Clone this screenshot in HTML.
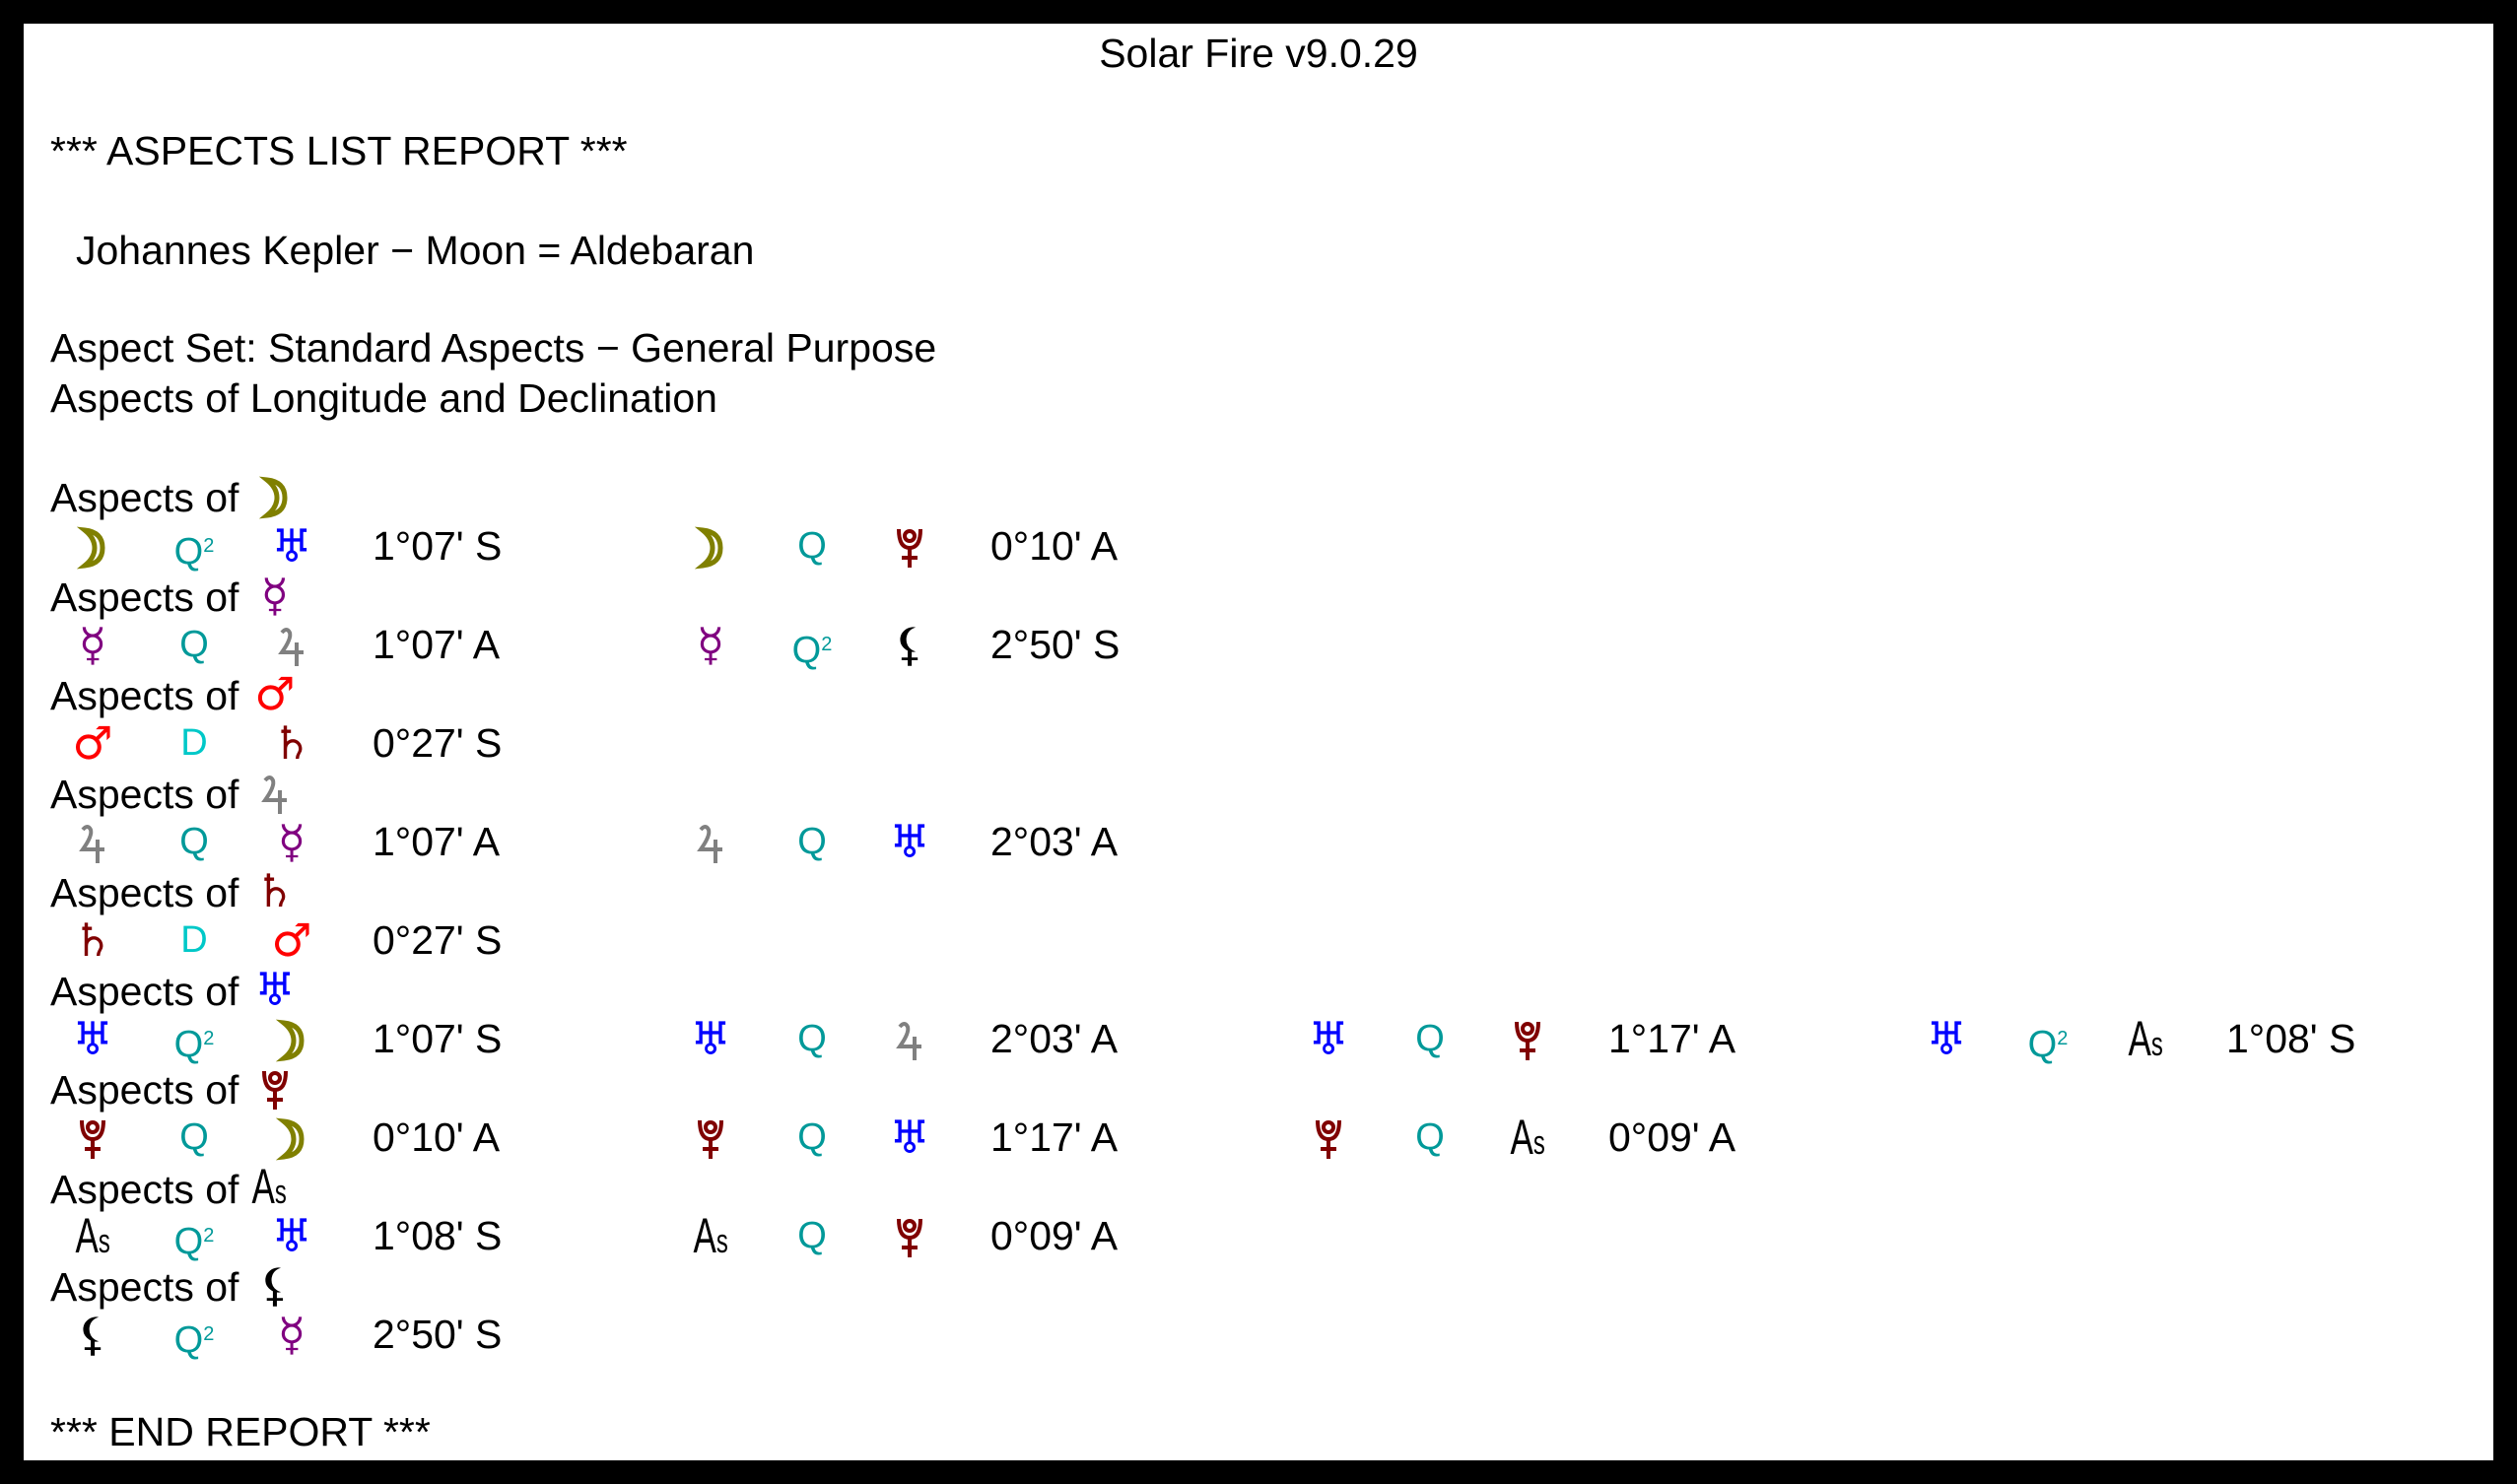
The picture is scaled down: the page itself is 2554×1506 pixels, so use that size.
<!DOCTYPE html>
<html><head><meta charset="utf-8"><style>
html,body{margin:0;padding:0;}
body{width:2554px;height:1506px;background:#000;position:relative;overflow:hidden;font-family:"Liberation Sans",Arial,sans-serif;font-size:41px;color:#000;}
#w{position:absolute;left:24px;top:24px;width:2506px;height:1458px;background:#fff;}
.l{position:absolute;height:50px;line-height:50px;white-space:nowrap;}
.g{position:absolute;height:50px;line-height:50px;top:0;}
.s{position:absolute;width:70px;text-align:center;top:0;font-family:"DejaVu Sans",sans-serif;font-size:46px;font-weight:bold;}
.a{left:35px}.b{left:138px}.c{left:237px}
.o{position:absolute;left:354px;top:0;}
.q{font-family:"Liberation Sans",sans-serif;font-size:38px;font-weight:normal;color:#009999;}
.qd{font-family:"Liberation Sans",sans-serif;font-size:38px;font-weight:normal;color:#00c8c8;}
.q sup{font-size:20px;vertical-align:12px;}
.mo{color:#808000}.me{color:#800080}.ma{color:#f00}.ju{color:#808080}.sa{color:#800000}.ur{color:#0000ff}.pl{color:#800000}.li{color:#000}
.as{font-family:"Liberation Sans",sans-serif;font-size:50px;font-weight:normal;transform:scaleX(0.7);display:inline-block;}
.as small{font-size:34px;}
.hg{display:inline-block;width:50px;text-align:center;font-family:"DejaVu Sans",sans-serif;font-size:46px;font-weight:bold;}
svg.p{vertical-align:-8px;}
</style></head><body><div id="w">
<svg width="0" height="0" style="position:absolute"><defs>
<g id="pl" fill="none" stroke="#800000" stroke-width="4"><path d="M4 3 Q4 22 15 22 Q26 22 26 3"/><circle cx="15" cy="10" r="5"/><line x1="15" y1="22" x2="15" y2="42"/><line x1="7" y1="32" x2="23" y2="32"/></g>
<g id="mo" fill="none" stroke="#808000" stroke-width="5" stroke-linecap="round"><path d="M8 4 Q26 6 26 22 Q26 38 8 40 Q18 32 18 22 Q18 12 8 4 Z"/></g>
<g id="ju" fill="none" stroke="#808080" stroke-width="4"><path d="M6 8 Q11 2 14 8 Q16 14 6 28 L28 28 M21 18 L21 42"/></g>
</defs></svg>
<div class="l" style="left:0;width:2506px;text-align:center;top:5px;">Solar Fire v9.0.29</div>
<div class="l" style="left:27px;top:104px;">*** ASPECTS LIST REPORT ***</div>
<div class="l" style="left:53px;top:205px;">Johannes Kepler − Moon = Aldebaran</div>
<div class="l" style="left:27px;top:304px;">Aspect Set: Standard Aspects − General Purpose</div>
<div class="l" style="left:27px;top:355px;">Aspects of Longitude and Declination</div>

<div class="l" style="left:27px;top:454px;">Aspects of <span class="hg"><svg class="p" width="32" height="44"><use href="#mo"/></svg></span></div>
<div class="l" style="left:0;top:505px;width:2506px;">
 <div class="g" style="left:0"><span class="s a"><svg class="p" width="32" height="44"><use href="#mo"/></svg></span><span class="s b q">Q<sup>2</sup></span><span class="s c ur">♅</span><span class="o">1°07' S</span></div>
 <div class="g" style="left:627px"><span class="s a"><svg class="p" width="32" height="44"><use href="#mo"/></svg></span><span class="s b q">Q</span><span class="s c"><svg class="p" width="30" height="44"><use href="#pl"/></svg></span><span class="o">0°10' A</span></div>
</div>

<div class="l" style="left:27px;top:555px;">Aspects of <span class="hg me">☿</span></div>
<div class="l" style="left:0;top:605px;width:2506px;">
 <div class="g" style="left:0"><span class="s a me">☿</span><span class="s b q">Q</span><span class="s c"><svg class="p" width="32" height="44"><use href="#ju"/></svg></span><span class="o">1°07' A</span></div>
 <div class="g" style="left:627px"><span class="s a me">☿</span><span class="s b q">Q<sup>2</sup></span><span class="s c li">⚸</span><span class="o">2°50' S</span></div>
</div>

<div class="l" style="left:27px;top:655px;">Aspects of <span class="hg ma">♂</span></div>
<div class="l" style="left:0;top:705px;width:2506px;">
 <div class="g" style="left:0"><span class="s a ma">♂</span><span class="s b qd">D</span><span class="s c sa">♄</span><span class="o">0°27' S</span></div>
</div>

<div class="l" style="left:27px;top:755px;">Aspects of <span class="hg"><svg class="p" width="32" height="44"><use href="#ju"/></svg></span></div>
<div class="l" style="left:0;top:805px;width:2506px;">
 <div class="g" style="left:0"><span class="s a"><svg class="p" width="32" height="44"><use href="#ju"/></svg></span><span class="s b q">Q</span><span class="s c me">☿</span><span class="o">1°07' A</span></div>
 <div class="g" style="left:627px"><span class="s a"><svg class="p" width="32" height="44"><use href="#ju"/></svg></span><span class="s b q">Q</span><span class="s c ur">♅</span><span class="o">2°03' A</span></div>
</div>

<div class="l" style="left:27px;top:855px;">Aspects of <span class="hg sa">♄</span></div>
<div class="l" style="left:0;top:905px;width:2506px;">
 <div class="g" style="left:0"><span class="s a sa">♄</span><span class="s b qd">D</span><span class="s c ma">♂</span><span class="o">0°27' S</span></div>
</div>

<div class="l" style="left:27px;top:955px;">Aspects of <span class="hg ur">♅</span></div>
<div class="l" style="left:0;top:1005px;width:2506px;">
 <div class="g" style="left:0"><span class="s a ur">♅</span><span class="s b q">Q<sup>2</sup></span><span class="s c"><svg class="p" width="32" height="44"><use href="#mo"/></svg></span><span class="o">1°07' S</span></div>
 <div class="g" style="left:627px"><span class="s a ur">♅</span><span class="s b q">Q</span><span class="s c"><svg class="p" width="32" height="44"><use href="#ju"/></svg></span><span class="o">2°03' A</span></div>
 <div class="g" style="left:1254px"><span class="s a ur">♅</span><span class="s b q">Q</span><span class="s c"><svg class="p" width="30" height="44"><use href="#pl"/></svg></span><span class="o">1°17' A</span></div>
 <div class="g" style="left:1881px"><span class="s a ur">♅</span><span class="s b q">Q<sup>2</sup></span><span class="s c"><span class="as">A<small>s</small></span></span><span class="o">1°08' S</span></div>
</div>

<div class="l" style="left:27px;top:1055px;">Aspects of <span class="hg"><svg class="p" width="30" height="44"><use href="#pl"/></svg></span></div>
<div class="l" style="left:0;top:1105px;width:2506px;">
 <div class="g" style="left:0"><span class="s a"><svg class="p" width="30" height="44"><use href="#pl"/></svg></span><span class="s b q">Q</span><span class="s c"><svg class="p" width="32" height="44"><use href="#mo"/></svg></span><span class="o">0°10' A</span></div>
 <div class="g" style="left:627px"><span class="s a"><svg class="p" width="30" height="44"><use href="#pl"/></svg></span><span class="s b q">Q</span><span class="s c ur">♅</span><span class="o">1°17' A</span></div>
 <div class="g" style="left:1254px"><span class="s a"><svg class="p" width="30" height="44"><use href="#pl"/></svg></span><span class="s b q">Q</span><span class="s c"><span class="as">A<small>s</small></span></span><span class="o">0°09' A</span></div>
</div>

<div class="l" style="left:27px;top:1155px;">Aspects of <span class="as" style="margin-left:-6px">A<small>s</small></span></div>
<div class="l" style="left:0;top:1205px;width:2506px;">
 <div class="g" style="left:0"><span class="s a"><span class="as">A<small>s</small></span></span><span class="s b q">Q<sup>2</sup></span><span class="s c ur">♅</span><span class="o">1°08' S</span></div>
 <div class="g" style="left:627px"><span class="s a"><span class="as">A<small>s</small></span></span><span class="s b q">Q</span><span class="s c"><svg class="p" width="30" height="44"><use href="#pl"/></svg></span><span class="o">0°09' A</span></div>
</div>

<div class="l" style="left:27px;top:1255px;">Aspects of <span class="hg li">⚸</span></div>
<div class="l" style="left:0;top:1305px;width:2506px;">
 <div class="g" style="left:0"><span class="s a li">⚸</span><span class="s b q">Q<sup>2</sup></span><span class="s c me">☿</span><span class="o">2°50' S</span></div>
</div>

<div class="l" style="left:27px;top:1404px;">*** END REPORT ***</div>
</div></body></html>
